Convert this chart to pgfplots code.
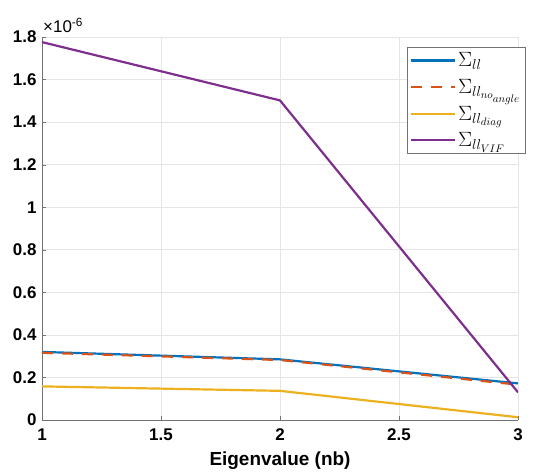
\documentclass[border=0pt]{standalone}
\usepackage{pgfplots}
\pgfplotsset{compat=1.18}
\usepackage{fontspec}
\setmainfont{Liberation Sans}
\definecolor{mblue}{rgb}{0,0.447,0.741}
\definecolor{morange}{rgb}{0.85,0.325,0.098}
\definecolor{myellow}{rgb}{0.929,0.694,0.125}
\definecolor{mpurple}{rgb}{0.494,0.184,0.556}
\begin{document}
\begin{tikzpicture}
\begin{axis}[
	name=ax,
	scale only axis,
	width=476bp, height=383bp,
	xmin=1, xmax=3, ymin=0, ymax=1.8e-6,
	xtick={1,1.5,...,3},
	ytick={0,0.2e-6,0.4e-6,0.6e-6,0.8e-6,1e-6,1.2e-6,1.4e-6,1.6e-6,1.8e-6},
	scaled y ticks=base 10:6,
	ytick scale label code/.code={},
	axis x line*=bottom, axis y line*=left,
	axis line style={draw=black!55,line width=0.8pt},
	tick style={draw=black!55},
	tick align=inside, major tick length=4bp,
	grid=major, grid style={draw=black!10,line width=0.6pt},
	ticklabel style={font=\fontsize{17}{17}\bfseries\selectfont},
	/pgf/number format/assume math mode=true,
	x tick label style={yshift=-5bp},
	y tick label style={xshift=-2bp},
	xlabel={\textbf{Eigenvalue (nb)}},
	xlabel style={font=\fontsize{19}{19}\selectfont,yshift=-4bp},
	legend style={at={(1.017,0.973)},anchor=north east,draw=black!55,line width=0.8pt,
		font=\fontsize{22}{26}\selectfont,row sep=7bp,inner sep=3bp},
	legend cell align=left,
	legend image code/.code={\draw[#1,line width=2.2pt] (0cm,0cm) -- (1.55cm,0cm);},
	every axis plot/.append style={line width=2.2pt},
]
\addplot[mblue] coordinates {(1,0.32e-6) (2,0.285e-6) (3,0.172e-6)};
\addplot[morange,dash pattern=on 11bp off 9bp] coordinates {(1,0.316e-6) (2,0.282e-6) (3,0.166e-6)};
\addplot[myellow] coordinates {(1,0.158e-6) (2,0.137e-6) (3,0.013e-6)};
\addplot[mpurple] coordinates {(1,1.776e-6) (2,1.502e-6) (3,0.13e-6)};
\legend{$\Sigma_{ll}$,$\Sigma_{ll_{no_{angle}}}$,$\Sigma_{ll_{diag}}$,$\Sigma_{ll_{VIF}}$}
\end{axis}
\node[anchor=south west,inner sep=0pt,font=\fontsize{17}{17}\selectfont] at ([xshift=1bp,yshift=4bp]ax.north west) {×10\textsuperscript{-6}};
\path ([xshift=-42bp,yshift=-56bp]ax.south west) rectangle ([xshift=24bp,yshift=37bp]ax.north east);
\end{tikzpicture}
\end{document}
